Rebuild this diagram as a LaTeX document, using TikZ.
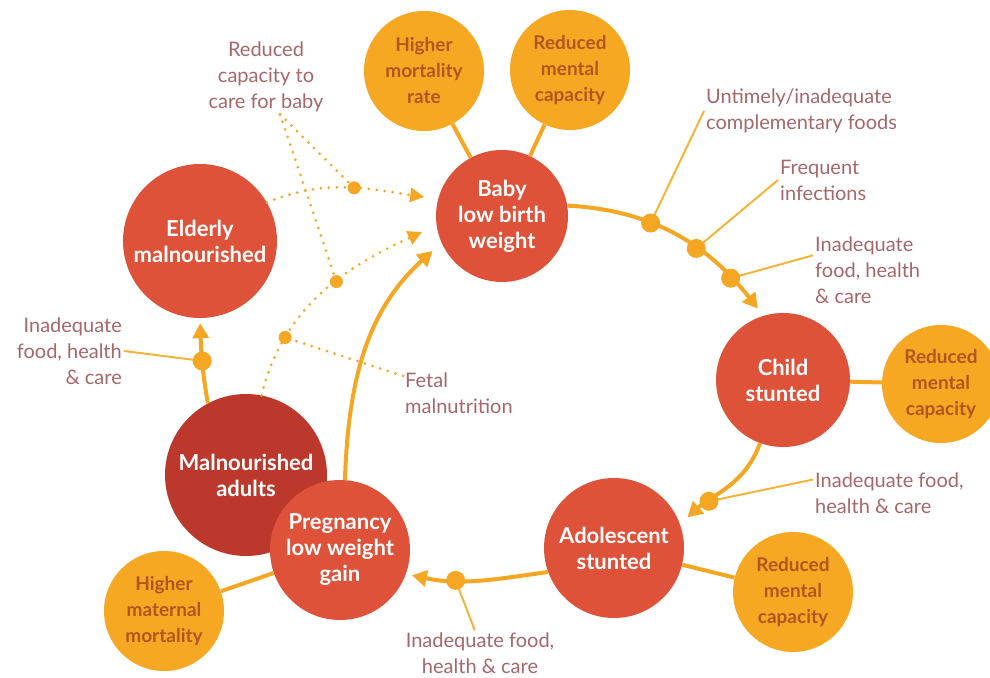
\documentclass[tikz,border=0pt]{standalone}
\usepackage{fontspec}
\setmainfont{Lato}
\usepackage{tikz}
\usetikzlibrary{arrows.meta,positioning}

\definecolor{stagered}{HTML}{DE5239}
\definecolor{stagedark}{HTML}{BC382C}
\definecolor{effectorange}{HTML}{F7A823}
\definecolor{effecttext}{HTML}{B0561E}
\definecolor{flowline}{HTML}{F5A623}
\definecolor{causeline}{HTML}{F3B43A}
\definecolor{causetext}{HTML}{A4676B}

\begin{document}
\begin{tikzpicture}[
  x=1pt, y=1pt,
  stage/.style={circle, fill=stagered, text=white, inner sep=0pt,
                align=center, font=\fontsize{22}{26}\selectfont\bfseries},
  effect/.style={circle, fill=effectorange, text=effecttext, inner sep=0pt,
                 align=center, font=\fontsize{19}{26}\selectfont\bfseries},
  cause/.style={text=causetext, inner sep=2pt,
                font=\fontsize{20}{26}\selectfont},
  flow/.style={draw=flowline, line width=4pt,
               -{Triangle[length=15pt,width=16pt]}},
  link/.style={draw=flowline, line width=4pt},
  feed/.style={draw=causeline, line width=2pt},
  hint/.style={draw=flowline, line width=3pt, dash pattern=on 0pt off 8pt,
               line cap=round},
  hintarr/.style={hint, -{Triangle[length=14pt,width=14pt]}},
  dot/.style={circle, fill=flowline, inner sep=0pt, minimum size=19pt},
  sdot/.style={circle, fill=flowline, inner sep=0pt, minimum size=13pt}
]
\useasboundingbox (0,0) rectangle (990,677);
%% ── Life-cycle stages ───────────────────────────────────────────────────
\node[stage, minimum size=132pt] (baby)    at (502,461) {Baby\\low birth\\weight};
\node[stage, minimum size=154pt] (elderly) at (200,436) {Elderly\\malnourished};
\node[stage, minimum size=134pt] (child)   at (783,297) {Child\\stunted};
\node[stage, minimum size=140pt] (adol)    at (614,129) {Adolescent\\stunted};
\node[stage, fill=stagedark, minimum size=162pt] (adults) at (246,202)
      {Malnourished\\adults};
\node[stage, minimum size=140pt] (preg)    at (340,127) {Pregnancy\\low weight\\gain};
%% ── Consequences (orange) ───────────────────────────────────────────────
\node[effect, minimum size=120pt] (mortal)  at (424,606) {Higher\\mortality\\rate};
\node[effect, minimum size=120pt] (mentala) at (570,607) {Reduced\\mental\\capacity};
\node[effect, minimum size=118pt] (mentalb) at (941,293) {Reduced\\mental\\capacity};
\node[effect, minimum size=120pt] (mentalc) at (793,85)  {Reduced\\mental\\capacity};
\node[effect, minimum size=120pt] (matmort) at (164,66)  {Higher\\maternal\\mortality};
%% ── Cause labels ────────────────────────────────────────────────────────
\node[cause, align=center] (capcare) at (266,600)
      {Reduced\\capacity to\\care for baby};
\node[cause, align=left, anchor=west] (compfood) at (704,566)
      {Untimely/inadequate\\complementary foods};
\node[cause, align=left, anchor=west] (infect) at (778,497)
      {Frequent\\infections};
\node[cause, align=left, anchor=west] (carea) at (813,407)
      {Inadequate\\food, health\\\& care};
\node[cause, align=left, anchor=west] (careb) at (813,184)
      {Inadequate food,\\health \& care};
\node[cause, align=center] (carec) at (480,24)
      {Inadequate food,\\health \& care};
\node[cause, align=left, anchor=west] (fetal) at (403,284)
      {Fetal\\malnutrition};
\node[cause, align=right, anchor=east] (cared) at (124,326)
      {Inadequate\\food, health\\\& care};
%% ── Links: stages → consequences ────────────────────────────────────────
\draw[link] (mortal)  -- (baby);
\draw[link] (mentala) -- (baby);
\draw[link] (child)   -- (mentalb);
\draw[link] (adol)    -- (mentalc);
\draw[link] (preg)    -- (matmort);
%% ── Main cycle ──────────────────────────────────────────────────────────
\draw[flow, shorten >=9pt] (baby.9) to[out=-3, in=128]
  coordinate[pos=0.36] (fa) coordinate[pos=0.6] (fb) coordinate[pos=0.8] (fc)
  (child.107);
\draw[flow, shorten >=10pt] (child.250) to[out=-110, in=42]
  coordinate[pos=0.7] (fd) (adol.20);
\draw[flow, shorten >=6pt] (adol.200) to[out=188, in=-12]
  coordinate[pos=0.66] (fe) (preg.-20);
\draw[flow, shorten >=12pt] (preg.86) to[out=88, in=222] (baby.204);
\draw[flow, shorten >=5pt] (adults.118) to[out=100, in=-88]
  coordinate[pos=0.5] (ff) (elderly.-90);
%% ── Dotted feedback to baby ─────────────────────────────────────────────
\draw[hintarr, shorten >=14pt] (elderly.30) to[out=22, in=172]
  coordinate[pos=0.52] (ha) (baby.165);
\draw[hintarr, shorten >=16pt] (adults.79) to[out=76, in=205]
  coordinate[pos=0.24] (hb) coordinate[pos=0.56] (hc) (baby.188);
\draw[hint] ([xshift=14pt]capcare.south) -- (ha);
\draw[hint] ([xshift=14pt]capcare.south) -- (hc);
\draw[hint] (fetal.163) -- (hb);
%% ── Cause lines into the cycle ──────────────────────────────────────────
\draw[feed] (fa) -- (compfood.west);
\draw[feed] (fb) -- (infect.west);
\draw[feed] (fc) -- (carea.165);
\draw[feed] (fd) -- (careb.170);
\draw[feed] (fe) -- (carec.103);
\draw[feed] (ff) -- (cared.east);
%% ── Dots ────────────────────────────────────────────────────────────────
\foreach \p in {fa,fb,fc,fd,fe,ff} \node[dot] at (\p) {};
\foreach \p in {ha,hb,hc} \node[sdot] at (\p) {};
\end{tikzpicture}
\end{document}
